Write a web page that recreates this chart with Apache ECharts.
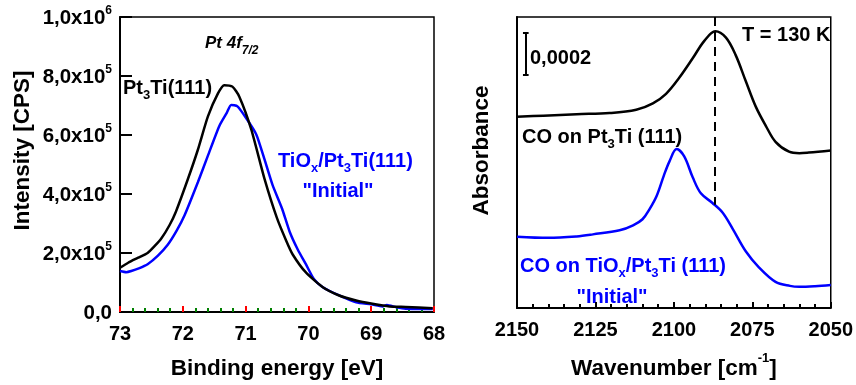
<!DOCTYPE html>
<html><head><meta charset="utf-8">
<script src="https://cdn.jsdelivr.net/npm/echarts@6/dist/echarts.min.js"></script>
<style>html,body{margin:0;padding:0;background:#fff}#c{width:856px;height:385px}</style>
</head><body><div id="c"></div>
<script>
// ---- XPS panel (Pt 4f7/2) ----
const xpsTicks = [73, 72, 71, 70, 69, 68];
const xpsEnergyPt = [73.0, 72.87, 72.71, 72.56, 72.45, 72.34, 72.21, 72.11, 71.92, 71.76, 71.60, 71.44, 71.34, 71.21, 71.10, 70.91, 70.70, 70.50, 70.35, 70.25, 70.04, 69.77, 69.51, 69.24, 68.98, 68.71, 68.45, 68.02];
const xpsPt3Ti = [150000, 167000, 184000, 200000, 223000, 250000, 295000, 340000, 450000, 550000, 663000, 741000, 769000, 764000, 730000, 619000, 452000, 318000, 240000, 195000, 134000, 84000, 56000, 39000, 28000, 19000, 17000, 13000];
const xpsEnergyTiOx = [73.0, 72.90, 72.82, 72.70, 72.56, 72.40, 72.24, 72.10, 71.97, 71.76, 71.60, 71.42, 71.30, 71.23, 71.13, 71.00, 70.83, 70.70, 70.57, 70.42, 70.30, 70.17, 70.04, 69.91, 69.77, 69.51, 69.24, 69.00, 68.82, 68.75, 68.60, 68.45, 68.02];
const xpsTiOx = [139000, 135000, 139000, 148000, 162000, 190000, 228000, 275000, 329000, 440000, 530000, 630000, 675000, 702000, 697000, 660000, 602000, 518000, 430000, 351000, 273000, 212000, 162000, 111000, 84000, 56000, 33000, 26000, 19000, 24000, 16000, 11000, 10000];

// ---- IR panel (CO stretch, absorbance in arbitrary offset units) ----
const irTicks = [2150, 2125, 2100, 2075, 2050];
const irWnPt = [2150, 2141.6, 2131, 2120.5, 2112, 2106.7, 2102.5, 2098.3, 2094, 2090.3, 2086.8, 2083.4, 2080.3, 2077.1, 2073.9, 2070.7, 2067.6, 2063.3, 2060, 2057, 2050];
const irPt3Ti = [65.7, 66.1, 66.6, 67.0, 68.1, 70.3, 73.6, 79.1, 85.8, 91.8, 95.1, 92.9, 86.9, 78.0, 69.2, 62.6, 57.1, 53.7, 53.2, 53.4, 54.1];
const irWnTiOx = [2150, 2140, 2131, 2125.8, 2117.3, 2113, 2110, 2107.8, 2105.5, 2103.2, 2101.4, 2099.1, 2096.7, 2094, 2091.4, 2087.7, 2084.5, 2081.3, 2077.1, 2072.9, 2067.6, 2063, 2060, 2055, 2050];
const irTiOx = [24.5, 24.1, 24.6, 25.3, 26.7, 28.4, 30.5, 33.9, 38.5, 45.5, 50.4, 54.6, 52.1, 44.9, 39.4, 36.1, 32.8, 27.3, 19.5, 14.0, 9.0, 7.6, 7.3, 7.5, 7.9];
const irPeakLine = 2087;
const scaleBarWn = 2147.2;
const scaleBarTop = 94.7;
const scaleBarBottom = 80.1;

const FONT = '"Liberation Sans", Arial, sans-serif';
const BLUE = '#0000ff';

function zip(a, b) { return a.map((v, i) => [v, b[i]]); }
function sciLabel(v) {
  if (v === 0) return '{m|0,0}';
  const e = Math.floor(Math.log10(v) + 1e-9);
  const m = (v / Math.pow(10, e)).toFixed(1).replace('.', ',');
  return '{m|' + m + 'x10}{e|' + e + '}';
}

const chart = echarts.init(document.getElementById('c'));

const tickLabel = () => ({ fontFamily: FONT, fontWeight: 'bold', fontSize: 20, color: '#000' });
const nameStyle = () => ({ fontFamily: FONT, fontWeight: 'bold', fontSize: 22.5, color: '#000' });

const subRich = (color, size) => ({
  a: { fontFamily: FONT, fontWeight: 'bold', fontSize: size, color: color, lineHeight: 22, verticalAlign: 'top' },
  s: { fontFamily: FONT, fontWeight: 'bold', fontSize: 13, color: color, padding: [11, 0, 0, 0], verticalAlign: 'top' }
});

function txt(x, y, text, color, align, rich) {
  return {
    type: 'text', x: x, y: y, silent: true,
    style: { text: text, textAlign: align || 'left', textVerticalAlign: 'middle', rich: rich || subRich(color, 20),
      fill: color, font: 'bold 20px ' + FONT }
  };
}

const option = {
  animation: false,
  backgroundColor: '#fff',
  grid: [
    { left: 120, top: 17, width: 314, height: 300, show: true, borderColor: '#000', borderWidth: 1.5 },
    { left: 517, top: 17, width: 315, height: 301, show: true, borderColor: '#000', borderWidth: 1.5 }
  ],
  xAxis: [
    {
      gridIndex: 0, type: 'value', min: 68, max: 73, interval: 1, inverse: true,
      name: 'Binding energy [eV]', nameLocation: 'middle', nameGap: 45, nameTextStyle: nameStyle(),
      axisLine: { show: true, lineStyle: { color: '#000', width: 2 } },
      axisTick: { show: true, inside: true, length: 6, lineStyle: { color: 'red', width: 2 } },
      minorTick: { show: true, splitNumber: 5, length: 4, lineStyle: { color: 'green', width: 2 } },
      axisLabel: Object.assign({ margin: 12, formatter: v => xpsTicks.indexOf(v) >= 0 ? String(v) : '' }, tickLabel()),
      splitLine: { show: false }
    },
    {
      gridIndex: 1, type: 'value', min: 2050, max: 2150, interval: 25, inverse: true,
      name: '{a|Wavenumber [cm}{e|-1}{a|]}', nameLocation: 'middle', nameGap: 44,
      nameTextStyle: Object.assign(nameStyle(), { rich: {
        a: { fontFamily: FONT, fontWeight: 'bold', fontSize: 22.5, color: '#000', lineHeight: 28, verticalAlign: 'bottom' },
        e: { fontFamily: FONT, fontWeight: 'bold', fontSize: 13, color: '#000', verticalAlign: 'top' } } }),
      axisLine: { show: true, lineStyle: { color: '#000', width: 2 } },
      axisTick: { show: true, inside: true, length: 6, lineStyle: { color: '#000', width: 2 } },
      minorTick: { show: true, splitNumber: 5, length: 4, lineStyle: { color: '#000', width: 2 } },
      axisLabel: Object.assign({ margin: 12, formatter: v => irTicks.indexOf(v) >= 0 ? String(v) : '' }, tickLabel()),
      splitLine: { show: false }
    }
  ],
  yAxis: [
    {
      gridIndex: 0, type: 'value', min: 0, max: 1000000, interval: 200000,
      name: 'Intensity [CPS]', nameLocation: 'middle', nameGap: 86,
      nameTextStyle: Object.assign(nameStyle(), { padding: [0, 0, 0, 28] }),
      axisLine: { show: true, lineStyle: { color: '#000', width: 2 } },
      axisTick: { show: true, inside: true, length: 12, lineStyle: { color: '#000', width: 2 } },
      axisLabel: {
        margin: 8, formatter: sciLabel,
        rich: {
          m: { fontFamily: FONT, fontWeight: 'bold', fontSize: 20.5, color: '#000', lineHeight: 24, verticalAlign: 'bottom' },
          e: { fontFamily: FONT, fontWeight: 'bold', fontSize: 12, color: '#000', lineHeight: 14, verticalAlign: 'top' }
        }
      },
      splitLine: { show: false }
    },
    {
      gridIndex: 1, type: 'value', min: 0, max: 100,
      name: 'Absorbance', nameLocation: 'middle', nameGap: 24,
      nameTextStyle: Object.assign(nameStyle(), { padding: [0, 0, 0, 24] }),
      axisLine: { show: true, lineStyle: { color: '#000', width: 2 } },
      axisTick: { show: false }, axisLabel: { show: false }, splitLine: { show: false }
    }
  ],
  series: [
    { name: 'TiOx/Pt3Ti(111) "Initial"', type: 'line', xAxisIndex: 0, yAxisIndex: 0, data: zip(xpsEnergyTiOx, xpsTiOx),
      showSymbol: false, smooth: 0.2, lineStyle: { color: BLUE, width: 2.5 }, itemStyle: { color: BLUE } },
    { name: 'Pt3Ti(111)', type: 'line', xAxisIndex: 0, yAxisIndex: 0, data: zip(xpsEnergyPt, xpsPt3Ti),
      showSymbol: false, smooth: 0.2, lineStyle: { color: '#000', width: 2.5 }, itemStyle: { color: '#000' } },
    { name: 'CO on TiOx/Pt3Ti (111) "Initial"', type: 'line', xAxisIndex: 1, yAxisIndex: 1, data: zip(irWnTiOx, irTiOx),
      showSymbol: false, smooth: 0.35, lineStyle: { color: BLUE, width: 2.5 }, itemStyle: { color: BLUE } },
    { name: 'CO on Pt3Ti (111)', type: 'line', xAxisIndex: 1, yAxisIndex: 1, data: zip(irWnPt, irPt3Ti),
      showSymbol: false, smooth: 0.35, lineStyle: { color: '#000', width: 2.5 }, itemStyle: { color: '#000' },
      markLine: {
        silent: true, symbol: ['none', 'none'], label: { show: false },
        lineStyle: { color: '#000', width: 2, type: 'solid' },
        data: [
          [{ coord: [irPeakLine, 100], lineStyle: { type: [9, 6], width: 2, color: '#000' } }, { coord: [irPeakLine, 35.5] }],
          [{ coord: [scaleBarWn, scaleBarTop] }, { coord: [scaleBarWn, scaleBarBottom] }],
          [{ coord: [scaleBarWn + 0.9, scaleBarTop] }, { coord: [scaleBarWn - 0.9, scaleBarTop] }],
          [{ coord: [scaleBarWn + 0.9, scaleBarBottom] }, { coord: [scaleBarWn - 0.9, scaleBarBottom] }]
        ]
      } }
  ],
  graphic: [
    txt(205, 46, '{a|Pt 4f}{s|7/2}', '#000', 'left', {
      a: { fontFamily: FONT, fontWeight: 'bold', fontStyle: 'italic', fontSize: 17, color: '#000', lineHeight: 20, verticalAlign: 'top' },
      s: { fontFamily: FONT, fontWeight: 'bold', fontStyle: 'italic', fontSize: 12, color: '#000', padding: [10, 0, 0, 0], verticalAlign: 'top' }
    }),
    txt(123, 90, '{a|Pt}{s|3}{a|Ti(111)}', '#000'),
    txt(278, 163, '{a|TiO}{s|x}{a|/Pt}{s|3}{a|Ti(111)}', BLUE),
    txt(338, 192, '{a|"Initial"}', BLUE, 'center'),
    txt(742, 36, '{a|T = 130 K}', '#000'),
    txt(530, 59, '{a|0,0002}', '#000'),
    txt(522, 139, '{a|CO on Pt}{s|3}{a|Ti (111)}', '#000'),
    txt(520, 268, '{a|CO on TiO}{s|x}{a|/Pt}{s|3}{a|Ti (111)}', BLUE),
    txt(612, 298, '{a|"Initial"}', BLUE, 'center')
  ]
};
chart.setOption(option);
</script>
</body></html>
